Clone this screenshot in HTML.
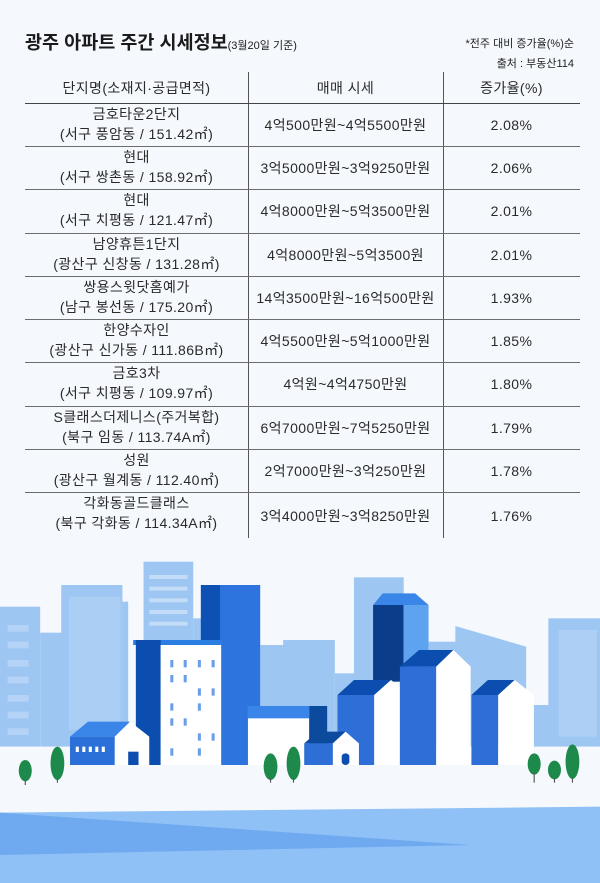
<!DOCTYPE html>
<html><head><meta charset="utf-8"><style>
*{margin:0;padding:0}
body{width:600px;height:883px;background:#f5f9fd;position:relative;overflow:hidden;font-family:"Liberation Sans","Noto Sans CJK KR",sans-serif;color:#222}
.t{position:absolute;white-space:nowrap}
.c{position:absolute;text-align:center;font-size:14px;letter-spacing:0.4px;line-height:20px;color:#2a2a2a;white-space:nowrap}
.h{position:absolute;height:0;border-top:1.3px solid #6d6d6d;left:25px;width:555px}
.v{position:absolute;width:0;border-left:1.5px solid #555;top:72px;height:466px}
</style></head><body>
<div class="t" style="left:25px;top:29px;font-size:18.5px;font-weight:bold;color:#1a1a1a">광주 아파트 주간 시세정보<span style="font-size:11px;font-weight:normal">(3월20일 기준)</span></div>
<div class="t" style="right:26px;top:35px;font-size:11px">*전주 대비 증가율(%)순</div>
<div class="t" style="right:26px;top:55px;font-size:11px">출처 : 부동산114</div>
<div class="v" style="left:248px"></div>
<div class="v" style="left:443px"></div>
<div class="h" style="top:103px;border-top:1.6px solid #444"></div>
<div class="c" style="left:25px;width:223px;top:78px">단지명(소재지·공급면적)</div>
<div class="c" style="left:248px;width:195px;top:78px">매매 시세</div>
<div class="c" style="left:443px;width:137px;top:78px">증가율(%)</div>

<div class="h" style="top:146px"></div><div class="h" style="top:189px"></div><div class="h" style="top:233px"></div><div class="h" style="top:276px"></div><div class="h" style="top:319px"></div><div class="h" style="top:362px"></div><div class="h" style="top:406px"></div><div class="h" style="top:449px"></div><div class="h" style="top:492px"></div>

<div class="c" style="left:25px;width:223px;top:104px">금호타운2단지<br>(서구 풍암동 / 151.42㎡)</div><div class="c" style="left:248px;width:195px;top:115px">4억500만원~4억5500만원</div><div class="c" style="left:443px;width:137px;top:115px">2.08%</div>
<div class="c" style="left:25px;width:223px;top:147px">현대<br>(서구 쌍촌동 / 158.92㎡)</div><div class="c" style="left:248px;width:195px;top:158px">3억5000만원~3억9250만원</div><div class="c" style="left:443px;width:137px;top:158px">2.06%</div>
<div class="c" style="left:25px;width:223px;top:190px">현대<br>(서구 치평동 / 121.47㎡)</div><div class="c" style="left:248px;width:195px;top:201px">4억8000만원~5억3500만원</div><div class="c" style="left:443px;width:137px;top:201px">2.01%</div>
<div class="c" style="left:25px;width:223px;top:234px">남양휴튼1단지<br>(광산구 신창동 / 131.28㎡)</div><div class="c" style="left:248px;width:195px;top:245px">4억8000만원~5억3500원</div><div class="c" style="left:443px;width:137px;top:245px">2.01%</div>
<div class="c" style="left:25px;width:223px;top:277px">쌍용스윗닷홈예가<br>(남구 봉선동 / 175.20㎡)</div><div class="c" style="left:248px;width:195px;top:288px">14억3500만원~16억500만원</div><div class="c" style="left:443px;width:137px;top:288px">1.93%</div>
<div class="c" style="left:25px;width:223px;top:320px">한양수자인<br>(광산구 신가동 / 111.86B㎡)</div><div class="c" style="left:248px;width:195px;top:331px">4억5500만원~5억1000만원</div><div class="c" style="left:443px;width:137px;top:331px">1.85%</div>
<div class="c" style="left:25px;width:223px;top:363px">금호3차<br>(서구 치평동 / 109.97㎡)</div><div class="c" style="left:248px;width:195px;top:374px">4억원~4억4750만원</div><div class="c" style="left:443px;width:137px;top:374px">1.80%</div>
<div class="c" style="left:25px;width:223px;top:407px">S클래스더제니스(주거복합)<br>(북구 임동 / 113.74A㎡)</div><div class="c" style="left:248px;width:195px;top:418px">6억7000만원~7억5250만원</div><div class="c" style="left:443px;width:137px;top:418px">1.79%</div>
<div class="c" style="left:25px;width:223px;top:450px">성원<br>(광산구 월계동 / 112.40㎡)</div><div class="c" style="left:248px;width:195px;top:461px">2억7000만원~3억250만원</div><div class="c" style="left:443px;width:137px;top:461px">1.78%</div>
<div class="c" style="left:25px;width:223px;top:493px">각화동골드클래스<br>(북구 각화동 / 114.34A㎡)</div><div class="c" style="left:248px;width:195px;top:506px">3억4000만원~3억8250만원</div><div class="c" style="left:443px;width:137px;top:506px">1.76%</div>

<svg style="position:absolute;left:0;top:540px" width="600" height="343" viewBox="0 0 1568 1029" preserveAspectRatio="none">
<g fill="#9ec6f3">
<rect x="0" y="200" width="105" height="420"/><rect x="105" y="278" width="60" height="342"/>
<rect x="160" y="135" width="160" height="485"/><rect x="320" y="185" width="15" height="435"/>
<rect x="375" y="65" width="130" height="240"/><rect x="505" y="235" width="25" height="80"/>
<rect x="680" y="315" width="195" height="305"/><rect x="740" y="300" width="135" height="20"/>
<rect x="925" y="112" width="130" height="310"/><rect x="875" y="400" width="60" height="220"/>
<rect x="1120" y="305" width="75" height="315"/><polygon points="1190,258 1375,320 1375,620 1190,620"/>
<rect x="1395" y="495" width="60" height="125"/><rect x="1433" y="235" width="135" height="385"/>
</g>
<g fill="#c3dcf8">
<rect x="390" y="105" width="100" height="12"/><rect x="390" y="140" width="100" height="12"/><rect x="390" y="175" width="100" height="12"/><rect x="390" y="210" width="100" height="12"/><rect x="390" y="245" width="100" height="12"/>
<rect x="20" y="255" width="55" height="20" opacity=".6"/><rect x="20" y="305" width="55" height="20" opacity=".6"/><rect x="20" y="360" width="55" height="20" opacity=".6"/><rect x="20" y="410" width="55" height="20" opacity=".6"/><rect x="20" y="465" width="55" height="20" opacity=".6"/><rect x="20" y="515" width="55" height="20" opacity=".6"/><rect x="20" y="565" width="55" height="20" opacity=".6"/>
<rect x="180" y="170" width="135" height="400" opacity=".35"/>
<rect x="1460" y="270" width="100" height="320" opacity=".4"/>
</g>
<rect x="0" y="620" width="1568" height="185" fill="#f5f9fd"/>
<rect x="525" y="135" width="155" height="540" fill="#2d74de"/><rect x="525" y="135" width="50" height="540" fill="#0d51b5"/>
<rect x="348" y="300" width="232" height="15" fill="#2a7de1"/>
<rect x="355" y="300" width="65" height="375" fill="#0c4eb0"/>
<rect x="420" y="315" width="158" height="360" fill="#fff"/>
<g fill="#6a9fe8"><rect x="445" y="360" width="8" height="22"/><rect x="480" y="360" width="8" height="22"/><rect x="517" y="360" width="8" height="22"/><rect x="553" y="360" width="8" height="22"/><rect x="445" y="405" width="8" height="22"/><rect x="480" y="405" width="8" height="22"/><rect x="517" y="445" width="8" height="22"/><rect x="553" y="445" width="8" height="22"/><rect x="445" y="490" width="8" height="22"/><rect x="517" y="490" width="8" height="22"/><rect x="445" y="535" width="8" height="22"/><rect x="480" y="535" width="8" height="22"/><rect x="517" y="580" width="8" height="22"/><rect x="553" y="580" width="8" height="22"/><rect x="445" y="625" width="8" height="22"/><rect x="517" y="625" width="8" height="22"/></g>
<rect x="648" y="498" width="160" height="177" fill="#fff"/><rect x="648" y="498" width="160" height="37" fill="#3a86e8"/><rect x="808" y="498" width="47" height="177" fill="#0c4a9e"/>
<polygon points="183,590 230,545 340,545 300,590" fill="#3a86e8"/><rect x="183" y="590" width="117" height="85" fill="#2b6fd8"/>
<polygon points="300,590 340,545 390,590 390,675 300,675" fill="#fff"/><rect x="335" y="635" width="27" height="40" fill="#0c4eb0"/>
<g fill="#fff"><rect x="198" y="620" width="8" height="16"/><rect x="215" y="620" width="8" height="16"/><rect x="232" y="620" width="8" height="16"/><rect x="249" y="620" width="8" height="16"/><rect x="266" y="620" width="8" height="16"/></g>
<rect x="975" y="195" width="80" height="230" fill="#0a3d8a"/><rect x="1055" y="195" width="65" height="230" fill="#5ea3ef"/><polygon points="975,195 1000,160 1085,160 1120,195" fill="#3a86e8"/>
<polygon points="882,465 925,420 1022,420 978,465" fill="#0c4eb0"/><rect x="882" y="465" width="96" height="210" fill="#2d6fd6"/><polygon points="978,465 1022,420 1068,465 1068,675 978,675" fill="#fff"/>
<polygon points="1045,380 1095,330 1185,330 1140,380" fill="#0c4eb0"/><rect x="1045" y="380" width="95" height="295" fill="#2d6fd6"/><polygon points="1140,380 1185,330 1230,380 1230,675 1140,675" fill="#fff"/>
<polygon points="1232,465 1275,420 1345,420 1302,465" fill="#0c4eb0"/><rect x="1232" y="465" width="70" height="210" fill="#2d6fd6"/><polygon points="1302,465 1345,420 1395,465 1395,675 1302,675" fill="#fff"/>
<polygon points="795,610 830,575 903,575 870,610" fill="#0c4a9e"/><rect x="795" y="610" width="75" height="65" fill="#2d6fd6"/><polygon points="870,610 903,575 938,610 938,675 870,675" fill="#fff"/><rect x="893" y="640" width="20" height="35" rx="10" fill="#0c4eb0"/>
<g fill="#1d8a4c"><ellipse cx="66" cy="692" rx="17" ry="32"/><ellipse cx="150" cy="670" rx="18" ry="50"/><ellipse cx="707" cy="680" rx="18" ry="40"/><ellipse cx="767" cy="670" rx="18" ry="50"/><ellipse cx="1396" cy="672" rx="17" ry="32"/><ellipse cx="1449" cy="690" rx="17" ry="28"/><ellipse cx="1496" cy="665" rx="18" ry="52"/></g>
<g stroke="#555" stroke-width="3"><line x1="66" y1="720" x2="66" y2="735"/><line x1="150" y1="715" x2="150" y2="728"/><line x1="707" y1="715" x2="707" y2="728"/><line x1="767" y1="715" x2="767" y2="728"/><line x1="1396" y1="700" x2="1396" y2="728"/><line x1="1449" y1="715" x2="1449" y2="728"/><line x1="1496" y1="715" x2="1496" y2="728"/></g>
<polygon points="0,818 1568,800 1568,1029 0,1029" fill="#90c1f6"/>
<polygon points="0,818 1230,915 0,945" fill="#6fa9f0"/>
</svg>
</body></html>
